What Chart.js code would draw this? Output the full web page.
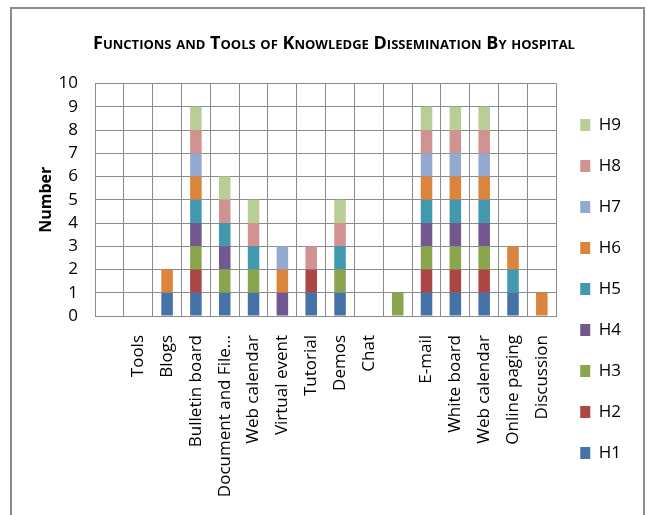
<!DOCTYPE html>
<html lang="en">
<head>
    <meta charset="UTF-8">
    <title>Functions and Tools of Knowledge Dissemination By hospital</title>
    <script src="https://cdn.jsdelivr.net/npm/chart.js"></script>
    <style>
        body, html {
            margin: 0;
            padding: 0;
            width: 647px;
            height: 515px;
            overflow: hidden;
            background: #fff;
            font-family: "Open Sans", sans-serif;
        }
        #frame {
            position: absolute;
            left: 10px;
            top: 7px;
            width: 631px;
            height: 600px;
            border: 2px solid #8c8c8c;
        }
        #wrap {
            position: absolute;
            left: 0;
            top: 0;
            width: 647px;
            height: 515px;
        }
    </style>
</head>
<body>
    <div id="frame"></div>
    <div id="wrap"><canvas id="hospChart"></canvas></div>

    <script>
        const tools = ["", "Tools", "Blogs", "Bulletin board", "Document and File…", "Web calendar", "Virtual event",
            "Tutorial", "Demos", "Chat", "", "E-mail", "White board", "Web calendar", "Online paging", "Discussion"];
        const H1 = [0, 0, 1, 1, 1, 1, 0, 1, 1, 0, 0, 1, 1, 1, 1, 0];
        const H2 = [0, 0, 0, 1, 0, 0, 0, 1, 0, 0, 0, 1, 1, 1, 0, 0];
        const H3 = [0, 0, 0, 1, 1, 1, 0, 0, 1, 0, 1, 1, 1, 1, 0, 0];
        const H4 = [0, 0, 0, 1, 1, 0, 1, 0, 0, 0, 0, 1, 1, 1, 0, 0];
        const H5 = [0, 0, 0, 1, 1, 1, 0, 0, 1, 0, 0, 1, 1, 1, 1, 0];
        const H6 = [0, 0, 1, 1, 0, 0, 1, 0, 0, 0, 0, 1, 1, 1, 1, 1];
        const H7 = [0, 0, 0, 1, 0, 0, 1, 0, 0, 0, 0, 1, 1, 1, 0, 0];
        const H8 = [0, 0, 0, 1, 1, 1, 0, 1, 1, 0, 0, 1, 1, 1, 0, 0];
        const H9 = [0, 0, 0, 1, 1, 1, 0, 0, 1, 0, 0, 1, 1, 1, 0, 0];
        const yTicks = [0, 1, 2, 3, 4, 5, 6, 7, 8, 9, 10];

        const series = [
            ["H1", H1, "#4572A7"], ["H2", H2, "#AA4643"], ["H3", H3, "#89A54E"],
            ["H4", H4, "#71588F"], ["H5", H5, "#4198AF"], ["H6", H6, "#DB843D"],
            ["H7", H7, "#93A9CF"], ["H8", H8, "#D19392"], ["H9", H9, "#B9CD96"]
        ];

        const ctx = document.getElementById('hospChart').getContext('2d');
        new Chart(ctx, {
            type: 'bar',
            data: {
                labels: tools,
                datasets: series.map(([name, vals, col]) => ({
                    label: name,
                    data: vals,
                    backgroundColor: col,
                    borderWidth: 0,
                    barPercentage: 0.4,
                    categoryPercentage: 1
                }))
            },
            options: {
                responsive: true,
                maintainAspectRatio: false,
                animation: false,
                layout: { padding: { left: 37, top: 33, right: 16, bottom: 0 } },
                scales: {
                    x: {
                        stacked: true,
                        grid: { color: '#8c8c8c', offset: true, drawTicks: false },
                        border: { color: '#8c8c8c' },
                        ticks: {
                            color: '#000', autoSkip: false, maxRotation: 90, minRotation: 90, padding: 19,
                            font: { family: 'Open Sans', size: 17 }
                        },
                        afterFit: (s) => { s.height = 199; }
                    },
                    y: {
                        stacked: true,
                        min: 0, max: 10,
                        afterBuildTicks: (s) => { s.ticks = yTicks.map(v => ({ value: v })); },
                        grid: { color: '#8c8c8c', drawTicks: false },
                        border: { color: '#8c8c8c' },
                        ticks: { color: '#000', autoSkip: false, padding: 17, font: { family: 'Open Sans', size: 17 } },
                        title: { display: true, text: 'Number', color: '#000', font: { family: 'Open Sans', size: 16, weight: 'bold' }, padding: 0 },
                        afterFit: (s) => { s.width = 58; }
                    }
                },
                plugins: {
                    title: {
                        display: true,
                        text: 'Functions and Tools of Knowledge Dissemination By hospital',
                        color: '#000',
                        font: { family: 'Open Sans', size: 18, weight: 'small-caps bold' },
                        padding: { top: 0, bottom: 29 }
                    },
                    legend: {
                        position: 'right',
                        reverse: true,
                        // blank title only pushes the column of items down
                        title: { display: true, text: ' ', font: { size: 10 }, padding: 9 },
                        labels: { color: '#000', boxWidth: 10, boxHeight: 12, padding: 24, font: { family: 'Open Sans', size: 17 } }
                    },
                    tooltip: { enabled: false }
                }
            }
        });
    </script>
</body>
</html>
